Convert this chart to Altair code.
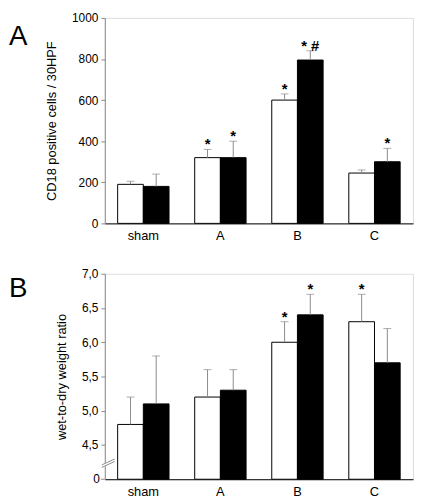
import altair as alt
import pandas as pd

categories = ["sham", "A", "B", "C"]
groups = ["white", "black"]

# Panel A: CD18 positive cells / 30HPF
a_white = [190, 320, 600, 245]
a_white_err = [205, 360, 630, 260]
a_white_sig = ["", "*", "*", ""]
a_black = [180, 320, 795, 300]
a_black_err = [240, 400, 840, 365]
a_black_sig = ["", "*", "* #", "*"]

# Panel B: wet-to-dry weight ratio (axis broken: bottom shown as 0)
b_white = [4.8, 5.2, 6.0, 6.3]
b_white_err = [5.2, 5.6, 6.3, 6.7]
b_white_sig = ["", "", "*", "*"]
b_black = [5.1, 5.3, 6.4, 5.7]
b_black_err = [5.8, 5.6, 6.7, 6.2]
b_black_sig = ["", "", "*", ""]

a_ticks = [0, 200, 400, 600, 800, 1000]
b_ticks = [4.5, 5.0, 5.5, 6.0, 6.5, 7.0]
b_base = 4.0
b_base_label = "0 "

FONT = "Liberation Sans, Arial, sans-serif"
W, H = 312, 208
GREY = "#8a8a8a"


def table(w, we, ws, b, be, bs, base):
    rows = []
    for i, c in enumerate(categories):
        rows.append(dict(cat=c, grp="white", v=w[i], err=we[i], sig=ws[i], base=base))
        rows.append(dict(cat=c, grp="black", v=b[i], err=be[i], sig=bs[i], base=base))
    return pd.DataFrame(rows)


def panel(df, letter, ydomain, yticks, ytitle, label_expr, breakmark=False):
    x = alt.X("cat:N", sort=categories, title=None,
              scale=alt.Scale(paddingInner=1 / 3, paddingOuter=1 / 6),
              axis=alt.Axis(ticks=False, domainColor="black", labelAngle=0,
                            labelFont=FONT, labelFontSize=13, labelColor="black",
                            labelPadding=6))
    xo = alt.XOffset("grp:N", sort=groups, scale=alt.Scale(paddingInner=0, paddingOuter=0))
    yscale = alt.Scale(domain=ydomain, zero=False, nice=False)
    yaxis = alt.Axis(values=yticks, labelExpr=label_expr, grid=False,
                     labelOverlap=False, labelFlush=False,
                     domainColor=GREY, tickColor=GREY, tickSize=4,
                     labelFont=FONT, labelFontSize=12, labelColor="black",
                     labelPadding=3,
                     titleFont=FONT, titleFontSize=13, titleFontWeight="normal",
                     titleColor="black", titlePadding=13)
    base = alt.Chart(df)
    bars = base.mark_bar(stroke="black", strokeWidth=1).encode(
        x=x, xOffset=xo, y=alt.Y("v:Q", scale=yscale, title=ytitle, axis=yaxis),
        y2="base:Q",
        fill=alt.Fill("grp:N", scale=alt.Scale(domain=groups, range=["white", "black"]),
                      legend=None))
    err = base.mark_rule(color=GREY, strokeWidth=1).encode(
        x=x, xOffset=xo, y=alt.Y("v:Q", scale=yscale, title=ytitle, axis=yaxis),
        y2="err:Q")
    cap = base.mark_tick(color=GREY, thickness=1, size=8).encode(
        x=x, xOffset=xo, y=alt.Y("err:Q", scale=yscale, title=ytitle, axis=yaxis))
    sig = base.mark_text(font=FONT, fontSize=15, fontWeight="bold", baseline="alphabetic",
                         dy=0, color="black").encode(
        x=x, xOffset=xo, y=alt.Y("err:Q", scale=yscale, title=ytitle, axis=yaxis),
        text="sig:N")
    lab = alt.Chart(alt.Data(values=[{"t": letter}])).mark_text(
        font=FONT, fontSize=28, align="left", baseline="alphabetic", color="black").encode(
        x=alt.value(-97), y=alt.value(27 if letter == "A" else 24), text="t:N")
    layers = [bars, err, cap, sig, lab]
    if breakmark:
        one = alt.Data(values=[{"k": 1}])
        lbl = alt.Data(values=[{"v": b_base, "t": b_base_label}])
        zero_tick = alt.Chart(lbl).mark_rule(color=GREY, strokeWidth=1).encode(
            x=alt.value(-4), x2=alt.value(0),
            y=alt.Y("v:Q", scale=yscale, title=ytitle, axis=yaxis))
        zero_lab = alt.Chart(lbl).mark_text(
            font=FONT, fontSize=12, align="right", baseline="middle", color="black").encode(
            x=alt.value(-5), y=alt.Y("v:Q", scale=yscale, title=ytitle, axis=yaxis),
            text="t:N")
        wipe = alt.Chart(one).mark_rule(color="white", strokeWidth=3).encode(
            x=alt.value(-2), x2=alt.value(8), y=alt.value(H - 13.5), y2=alt.value(H - 18))
        l1 = alt.Chart(one).mark_rule(color=GREY, strokeWidth=1).encode(
            x=alt.value(-3), x2=alt.value(10), y=alt.value(H - 12), y2=alt.value(H - 18))
        l2 = alt.Chart(one).mark_rule(color=GREY, strokeWidth=1).encode(
            x=alt.value(-3), x2=alt.value(10), y=alt.value(H - 14.5), y2=alt.value(H - 20.5))
        layers += [zero_tick, zero_lab, wipe, l1, l2]
    return alt.layer(*layers).properties(width=W, height=H)


dfa = table(a_white, a_white_err, a_white_sig, a_black, a_black_err, a_black_sig, 0)
dfb = table(b_white, b_white_err, b_white_sig, b_black, b_black_err, b_black_sig, b_base)

pa = panel(dfa, "A", [0, 1000], a_ticks, "CD18 positive cells / 30HPF",
           "format(datum.value, 'd')")
pb = panel(dfb, "B", [4, 7], b_ticks, "wet-to-dry weight ratio",
           "replace(format(datum.value, '.1f'), '.', ',')",
           breakmark=True)

chart = alt.vconcat(pa, pb, spacing=24).properties(padding=0).configure_view(
    stroke="black", strokeWidth=1).configure(background="white")

chart.save("out.html", embed_options={"renderer": "svg", "actions": False})
